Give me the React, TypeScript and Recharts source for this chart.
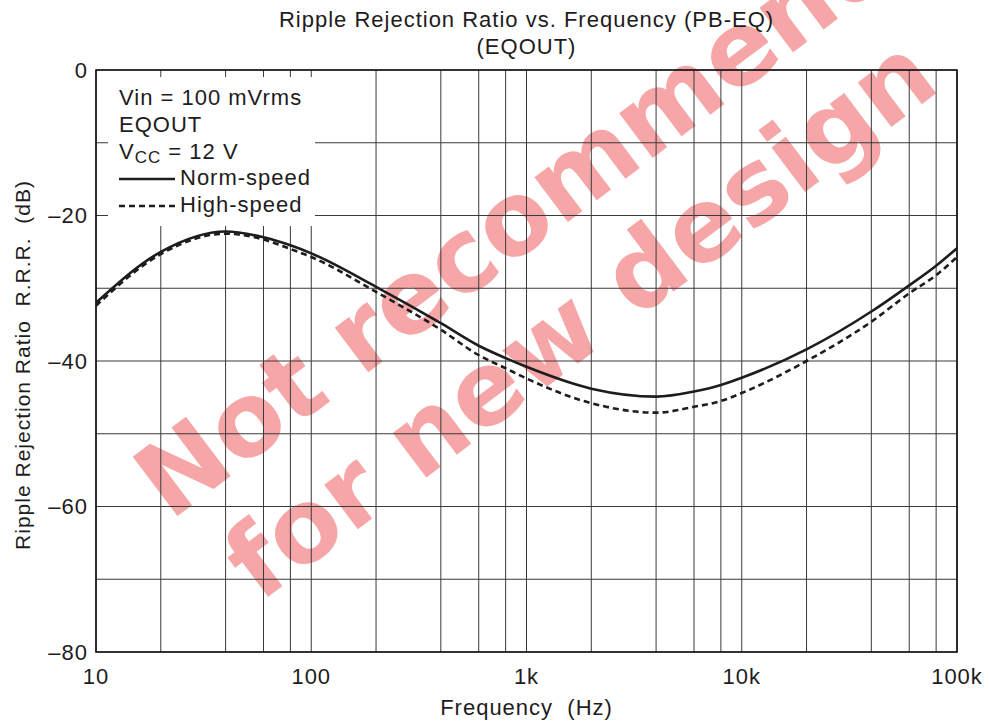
import React from "react"
import {
  LineChart, Line, XAxis, YAxis, CartesianGrid, ReferenceArea, Legend, Label,
} from "recharts"

// frequency (Hz) sample points
const freqs = [10, 20, 40, 60, 80, 100, 200, 400, 600, 800, 1000, 2000, 4000, 6000, 8000, 10000, 20000, 40000, 60000, 80000, 100000]
const normSpeed = [-32.0, -25.0, -22.2, -23.0, -24.1, -25.2, -29.8, -34.8, -37.9, -39.6, -40.8, -43.8, -44.9, -44.2, -43.3, -42.3, -38.4, -33.2, -29.6, -26.9, -24.5]
const highSpeed = [-32.4, -25.3, -22.5, -23.3, -24.6, -25.7, -30.5, -35.7, -39.2, -41.0, -42.4, -45.8, -47.1, -46.3, -45.5, -44.4, -40.0, -34.6, -30.7, -28.2, -25.7]

const xGrid = [10, 20, 40, 60, 80, 100, 200, 400, 600, 800, 1000, 2000, 4000, 6000, 8000, 10000, 20000, 40000, 60000, 80000, 100000]
const xLabels: Record<number, string> = { 10: "10", 100: "100", 1000: "1k", 10000: "10k", 100000: "100k" }
const yTicks = [0, -10, -20, -30, -40, -50, -60, -70, -80]

const infoLines = ["Vin = 100 mVrms", "EQOUT"]

const data = freqs.map((f, i) => ({ f, norm: normSpeed[i], high: highSpeed[i] }))

const FONT = '"Liberation Sans", Arial, Helvetica, sans-serif'
const INK = "#1e1c1d"
const LS = 1

function fmtY(v: number) {
  if (v % 20 !== 0) return ""
  return v === 0 ? "0" : "\u2013" + Math.abs(v)
}

function LegendBox() {
  const line: React.CSSProperties = { height: 26.8, lineHeight: "26.8px", whiteSpace: "nowrap" }
  return (
    <div style={{
      background: "#fff", width: 196, height: 141, paddingLeft: 11, paddingTop: 8,
      fontSize: 22, letterSpacing: LS, color: INK, fontFamily: FONT, boxSizing: "content-box",
    }}>
      {infoLines.map((t) => <div key={t} style={line}>{t}</div>)}
      <div style={line}>V<sub style={{ fontSize: 17, verticalAlign: "-4px" }}>CC</sub> = 12 V</div>
      <div style={{ ...line, display: "flex", alignItems: "center" }}>
        <svg width={61} height={10}><line x1={0} y1={5} x2={56} y2={5} stroke={INK} strokeWidth={2.5} /></svg>
        <span>Norm-speed</span>
      </div>
      <div style={{ ...line, display: "flex", alignItems: "center" }}>
        <svg width={61} height={10}><line x1={0} y1={5} x2={56} y2={5} stroke={INK} strokeWidth={2.5} strokeDasharray="6 4" /></svg>
        <span>High-speed</span>
      </div>
    </div>
  )
}

const wm: React.CSSProperties = {
  position: "absolute", whiteSpace: "nowrap", fontSize: 102, fontWeight: 700,
  color: "#f6a6a6", fontFamily: '"DejaVu Sans", sans-serif', transform: "translate(-50%, -50%) rotate(-37deg)",
  lineHeight: 1,
}

const axisText = { fontSize: 22, fill: INK, fontFamily: FONT, letterSpacing: LS }

export default function App() {
  return (
    <div style={{ position: "absolute", left: 0, top: 0, width: 989, height: 725, background: "#fff", fontFamily: FONT, color: INK, overflow: "hidden" }}>
      <div style={{ ...wm, left: 572, top: 175 }}>Not recommended</div>
      <div style={{ ...wm, left: 580, top: 318 }}>for new design</div>

      <div style={{ position: "absolute", left: 0, top: 0, zIndex: 1 }}>
        <LineChart width={989} height={725} data={data} margin={{ top: 70, right: 32, bottom: 0, left: 0 }}>
          <CartesianGrid stroke="#3a3a3a" strokeWidth={1} vertical horizontal verticalValues={xGrid} horizontalValues={yTicks} />
          <XAxis
            dataKey="f" type="number" scale="log" domain={[10, 100000]} ticks={xGrid}
            allowDataOverflow interval={0} height={73}
            tickFormatter={(v: number) => xLabels[v] ?? ""}
            tick={axisText}
            tickLine={false} axisLine={false} tickSize={0} tickMargin={16}
          >
            <Label value={"Frequency\u00a0\u00a0(Hz)"} position="insideBottom" offset={10} style={axisText} />
          </XAxis>
          <YAxis
            type="number" domain={[-80, 0]} ticks={yTicks} interval={0} width={96}
            tickFormatter={fmtY}
            tick={axisText}
            tickLine={false} axisLine={false} tickSize={0} tickMargin={8}
          >
            <Label
              content={() => (
                <text x={22} y={365} transform="rotate(-90 22 365)" textAnchor="middle" dominantBaseline="central"
                  style={{ fontSize: 21, fill: INK, fontFamily: FONT, letterSpacing: LS }}>
                  {"Ripple Rejection Ratio\u00a0\u00a0R.R.R.\u00a0\u00a0(dB)"}
                </text>
              )}
            />
          </YAxis>
          <ReferenceArea x1={10} x2={100000} y1={-80} y2={0} fill="none" stroke="#111" strokeWidth={1.6} ifOverflow="extendDomain" />
          <Line type="monotone" dataKey="norm" stroke={INK} strokeWidth={2.6} dot={false} isAnimationActive={false} />
          <Line type="monotone" dataKey="high" stroke={INK} strokeWidth={2.6} strokeDasharray="6 4" dot={false} isAnimationActive={false} />
          <Legend
            layout="horizontal" verticalAlign="middle" align="center"
            wrapperStyle={{ left: 108, top: 77, width: "auto", height: "auto" }}
            content={() => <LegendBox />}
          />
        </LineChart>
      </div>

      <div style={{ position: "absolute", left: 0, top: 6, width: 1053, textAlign: "center", fontSize: 22, letterSpacing: LS, lineHeight: "27px", zIndex: 2, color: INK }}>
        <div>Ripple Rejection Ratio vs. Frequency (PB-EQ)</div>
        <div>(EQOUT)</div>
      </div>
    </div>
  )
}
